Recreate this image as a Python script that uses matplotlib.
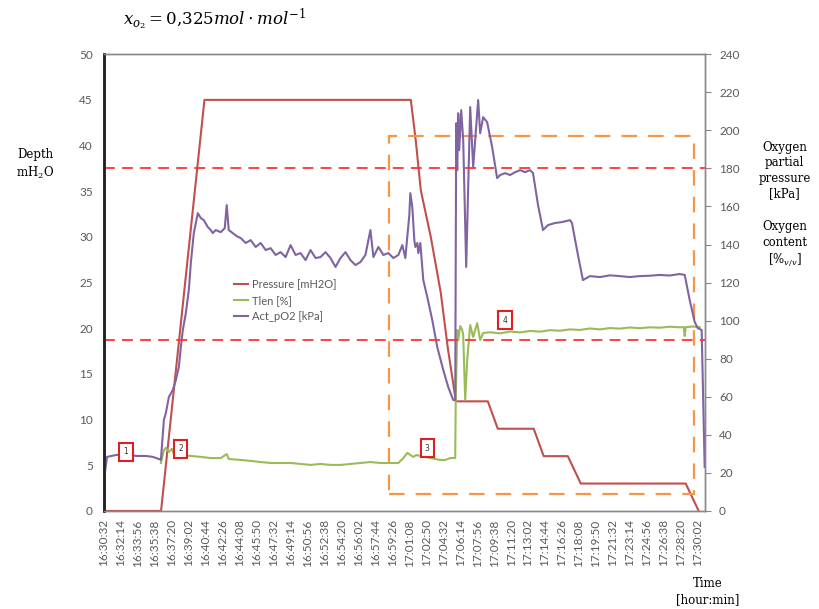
import numpy as np
import matplotlib.pyplot as plt
from matplotlib.patches import Rectangle

plt.rcParams['mathtext.fontset'] = 'dejavuserif'

# waktu dalam detik sejak 16:30:32
tick_labels = ['16:30:32', '16:32:14', '16:33:56', '16:35:38', '16:37:20', '16:39:02',
               '16:40:44', '16:42:26', '16:44:08', '16:45:50', '16:47:32', '16:49:14',
               '16:50:56', '16:52:38', '16:54:20', '16:56:02', '16:57:44', '16:59:26',
               '17:01:08', '17:02:50', '17:04:32', '17:06:14', '17:07:56', '17:09:38',
               '17:11:20', '17:13:02', '17:14:44', '17:16:26', '17:18:08', '17:19:50',
               '17:21:32', '17:23:14', '17:24:56', '17:26:38', '17:28:20', '17:30:02']
tick_step = 102

# Pressure [mH2O] (sumbu kiri)
p_t = [0, 343, 604, 1845, 1875, 1905, 1965, 2025, 2067, 2116, 2308, 2368, 2584, 2644,
       2789, 2867, 3498, 3576]
p_v = [0, 0, 45, 45, 40.5, 35.1, 30, 23.9, 17.9, 12, 12, 9, 9, 6, 6, 3, 3, 0]

# Tlen [%] (sumbu kanan)
tl_t = [342, 360, 372, 390, 408, 426, 462, 522, 582, 642, 702, 738, 750, 822, 882, 942,
        1002, 1062, 1122, 1182, 1242, 1302, 1362, 1422, 1482, 1542, 1602, 1662, 1722,
        1770, 1800, 1824, 1842, 1860, 1878, 1902, 1962, 2022, 2052, 2082, 2112, 2115,
        2124, 2130, 2142, 2154, 2160, 2172, 2184, 2202, 2220, 2244, 2262, 2280, 2322,
        2382, 2442, 2502, 2562, 2622, 2682, 2742, 2802, 2862, 2922, 2982, 3042, 3102,
        3162, 3222, 3282, 3342, 3402, 3462, 3486, 3492, 3498, 3540, 3582]
tl_v = [25.2, 32.0, 33.1, 31.0, 32.6, 28.4, 29.4, 28.9, 28.4, 27.8, 27.8, 29.9, 27.3,
        26.8, 26.3, 25.7, 25.2, 25.2, 25.2, 24.7, 24.2, 24.7, 24.2, 24.2, 24.7, 25.2,
        25.7, 25.2, 25.2, 25.2, 27.8, 30.5, 29.4, 28.4, 29.4, 28.9, 27.8, 26.8, 26.8,
        27.8, 27.8, 58.3, 95.1, 89.8, 97.2, 95.1, 92.4, 58.3, 79.3, 97.7, 91.4, 98.7,
        89.8, 93.5, 93.9, 93.3, 94.3, 93.8, 94.6, 94.2, 95.0, 94.7, 95.4, 95.1, 95.9,
        95.4, 96.1, 95.8, 96.4, 96.0, 96.5, 96.3, 96.8, 96.5, 96.6, 91.9, 96.6, 96.9,
        96.6]

# Act_pO2 [kPa] (sumbu kanan)
po_t = [0, 18, 72, 132, 192, 252, 294, 330, 342, 360, 372, 390, 414, 432, 450, 462, 474,
        492, 510, 522, 540, 564, 582, 600, 624, 642, 654, 672, 702, 726, 738, 750, 774,
        798, 822, 852, 882, 912, 942, 972, 1002, 1032, 1062, 1092, 1122, 1152, 1182,
        1212, 1242, 1272, 1302, 1332, 1362, 1392, 1422, 1452, 1482, 1512, 1542, 1572,
        1602, 1620, 1650, 1680, 1710, 1740, 1770, 1794, 1812, 1836, 1842, 1854, 1866,
        1872, 1884, 1890, 1902, 1920, 1944, 1974, 2004, 2040, 2070, 2100, 2112, 2118,
        2124, 2130, 2136, 2148, 2160, 2178, 2202, 2220, 2250, 2262, 2280, 2304, 2334,
        2364, 2382, 2412, 2442, 2472, 2502, 2532, 2562, 2580, 2610, 2640, 2670, 2712,
        2754, 2802, 2814, 2850, 2880, 2922, 2982, 3042, 3102, 3162, 3222, 3282, 3342,
        3402, 3462, 3492, 3522, 3552, 3570, 3594, 3612]
po_v = [16.3, 28.4, 29.4, 29.9, 28.9, 28.9, 28.4, 27.3, 26.8, 47.8, 51.5, 59.9, 63.6,
        68.8, 75.6, 86.1, 95.1, 104.0, 116.1, 130.3, 146.0, 156.5, 153.9, 152.8, 149.2,
        147.6, 146.0, 147.6, 146.5, 148.6, 160.7, 147.6, 146.0, 144.4, 143.4, 140.8,
        142.3, 138.7, 140.8, 137.1, 138.1, 134.5, 136.0, 133.4, 139.7, 134.5, 135.5,
        131.8, 137.1, 132.9, 133.4, 136.0, 132.9, 128.2, 132.9, 136.0, 131.8, 129.2,
        130.8, 134.5, 147.6, 133.4, 138.7, 134.5, 135.5, 132.9, 134.5, 139.7, 132.9,
        155.5, 167.0, 159.7, 142.3, 138.7, 140.8, 135.5, 140.8, 121.3, 112.4, 100.3,
        86.1, 74.1, 65.1, 58.3, 58.3, 203.8, 179.1, 209.0, 189.6, 210.6, 194.9, 128.2,
        212.2, 180.7, 215.9, 198.5, 206.9, 204.3, 191.2, 174.9, 176.5, 177.5, 176.5,
        178.0, 179.1, 178.0, 179.1, 177.5, 160.7, 147.6, 150.2, 151.3, 151.8, 152.8,
        151.3, 134.5, 121.3, 123.4, 122.9, 123.8, 123.4, 122.9, 123.4, 123.6, 124.0,
        123.7, 124.5, 124.0, 110.8, 99.3, 96.1, 95.1, 23.1]

# garis batas pO2 dan kotak fase
limit_levels = [180, 90]
box_t = [1716, 3546]
box_v = [9, 197]
# penanda fase: (waktu, nilai sumbu kanan, label)
markers = [(132, 31, '1'), (462, 32.6, '2'), (1944, 33, '3'), (2412, 100.3, '4')]

fig = plt.figure(figsize=(8.19, 6.09), dpi=100)
ax = fig.add_axes([0.127, 0.161, 0.734, 0.75])
ax2 = ax.twinx()

gray = '#595959'
line_p, = ax.plot(p_t, p_v, color='#C0504D', lw=1.5, label='Pressure [mH2O]')
line_t, = ax2.plot(tl_t, tl_v, color='#9BBB59', lw=1.5, label='Tlen [%]')
line_o, = ax2.plot(po_t, po_v, color='#8064A2', lw=1.5, label='Act_pO2 [kPa]')

for lv in limit_levels:
    ax2.axhline(lv, color='#FF3333', lw=1.3, ls=(0, (6, 4)))
ax2.add_patch(Rectangle((box_t[0], box_v[0]), box_t[1] - box_t[0], box_v[1] - box_v[0],
                        fill=False, edgecolor='#F79646', lw=1.6, ls=(0, (7, 5))))

for t, v, s in markers:
    ax2.text(t, v, s, ha='center', va='center', fontsize=5.5, color='#333333',
             bbox=dict(boxstyle='square,pad=0.55', fc='white', ec='#E02020', lw=1.5))

ax.set_xlim(0, 3615)
ax.set_ylim(0, 50)
ax2.set_ylim(0, 240)
ax.set_yticks(np.arange(0, 51, 5))
ax2.set_yticks(np.arange(0, 241, 20))
ax.set_xticks([tick_step * i for i in range(len(tick_labels))])
ax.set_xticklabels(tick_labels, rotation=90)

for lab in ax.get_xticklabels() + ax.get_yticklabels() + ax2.get_yticklabels():
    lab.set_fontfamily('Lato')
    lab.set_fontsize(8.5)
    lab.set_color(gray)
ax.tick_params(axis='x', length=0, pad=6)
ax.tick_params(axis='y', length=0, pad=8)
ax2.tick_params(axis='y', length=4, color='#888888', pad=6)

for a in (ax, ax2):
    for side in ['top', 'right', 'bottom']:
        a.spines[side].set_color('#888888')
        a.spines[side].set_linewidth(1)
    a.spines['left'].set_color('#222222')
    a.spines['left'].set_linewidth(1.8)

leg = ax.legend(handles=[line_p, line_t, line_o], loc='upper left',
                bbox_to_anchor=(0.2, 0.53), frameon=False, handlelength=1.2,
                handletextpad=0.4, labelspacing=0.45,
                prop={'family': 'Lato', 'size': 8})
for txt in leg.get_texts():
    txt.set_color(gray)

serif = 'DejaVu Serif'
fig.text(0.262, 0.968, r'$x_{o_2} = 0{,}325mol\cdot mol^{-1}$', ha='center', va='center',
         fontsize=12)
fig.text(0.043, 0.73, 'Depth\nmH$_2$O', ha='center', va='center', fontsize=8.5,
         family=serif, linespacing=1.3)
fig.text(0.958, 0.72, 'Oxygen\npartial\npressure\n[kPa]', ha='center', va='center',
         fontsize=8.5, family=serif, linespacing=1.25)
fig.text(0.958, 0.598, 'Oxygen\ncontent\n[%$_{v/v}$]', ha='center', va='center',
         fontsize=8.5, family=serif, linespacing=1.25)
fig.text(0.864, 0.028, 'Time\n[hour:min]', ha='center', va='center', fontsize=8.5,
         family=serif, linespacing=1.3)

fig.savefig('out.png', dpi=100)
